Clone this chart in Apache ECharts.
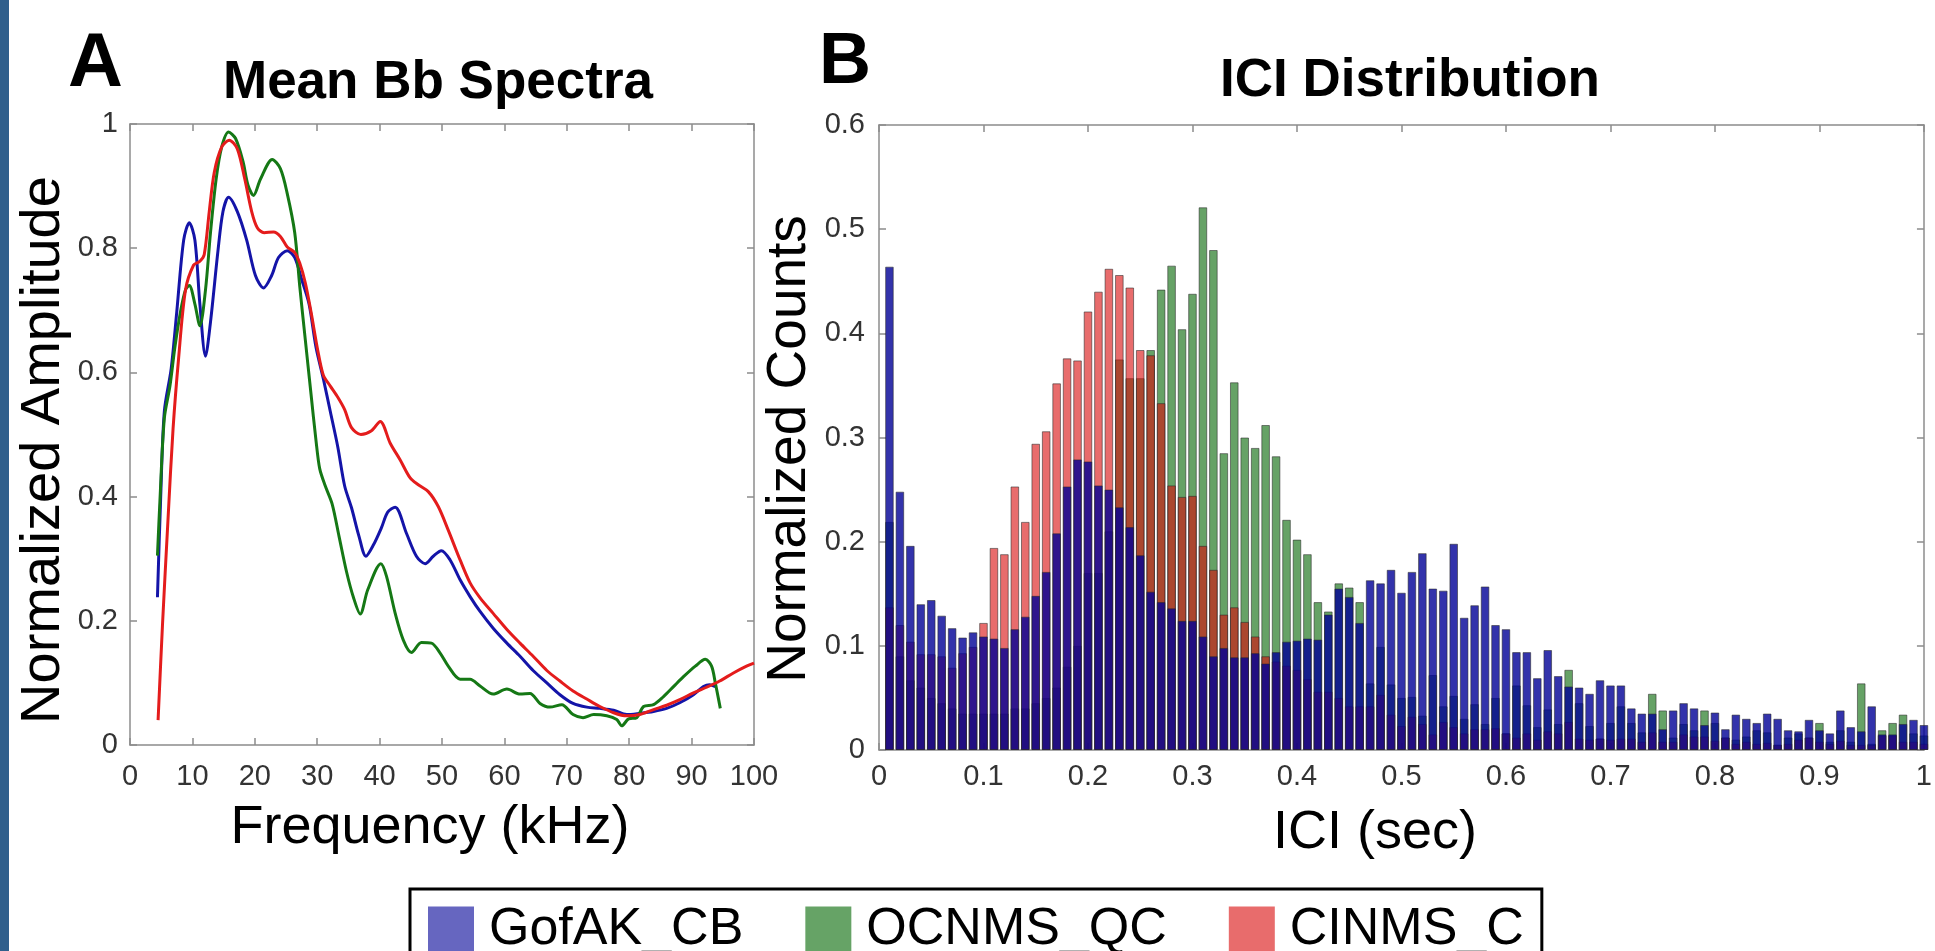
<!DOCTYPE html>
<html><head><meta charset="utf-8">
<script src="https://cdn.jsdelivr.net/npm/echarts@6/dist/echarts.min.js"></script>
<style>html,body{margin:0;padding:0;background:#fff;overflow:hidden}#c{width:1935px;height:951px}</style>
</head><body><div id="c"></div>
<script>
// ---------- Panel A: Mean Bb Spectra (frequency kHz / normalized amplitude) ----------
const gofakFreq = [4.4,4.9,5.5,6.6,7.5,8.6,9.5,10.4,11.2,12.1,12.9,14.1,14.9,15.8,17.2,18.7,20.1,21.4,22.7,23.8,25.2,26.4,27.5,28.7,29.8,31.0,32.1,33.3,34.4,35.5,36.7,37.8,39.0,40.3,41.3,42.5,44.3,45.9,47.3,48.6,49.9,51.3,52.9,54.5,56.1,58.2,60.4,62.5,64.6,66.8,68.9,71.0,73.2,75.3,77.5,79.6,81.7,83.9,86.0,88.1,90.3,91.9,92.9,93.8];
const gofakAmp  = [0.238,0.394,0.537,0.606,0.698,0.813,0.841,0.813,0.71,0.626,0.681,0.796,0.859,0.882,0.859,0.813,0.756,0.736,0.756,0.785,0.796,0.785,0.75,0.71,0.641,0.589,0.537,0.48,0.417,0.382,0.336,0.304,0.322,0.350,0.375,0.383,0.341,0.304,0.292,0.304,0.313,0.298,0.266,0.239,0.215,0.188,0.164,0.143,0.12,0.1,0.081,0.067,0.061,0.059,0.056,0.049,0.051,0.054,0.059,0.068,0.081,0.094,0.097,0.094];

const ocnmsFreq = [4.4,4.8,5.5,6.4,7.2,8.1,8.9,9.5,10.4,11.2,12.1,12.9,13.8,14.7,15.8,16.9,18.1,18.9,19.8,20.9,22.8,24.1,25.2,26.4,27.2,28.1,29.0,29.8,30.4,31.3,32.4,33.5,34.7,35.8,36.9,38.1,40.2,41.1,42.5,43.8,45.1,46.7,48.3,49.7,51.0,52.9,54.5,56.1,58.2,60.4,62.5,64.1,65.7,67.3,69.2,71.0,72.6,74.3,76.4,78.0,78.8,79.9,81.2,82.3,83.9,85.5,87.1,88.7,90.6,92.2,93.2,93.8,94.6];
const ocnmsAmp  = [0.305,0.394,0.526,0.578,0.641,0.698,0.733,0.74,0.71,0.675,0.733,0.825,0.911,0.963,0.987,0.977,0.94,0.902,0.885,0.911,0.943,0.928,0.888,0.825,0.739,0.652,0.566,0.491,0.445,0.417,0.388,0.336,0.279,0.238,0.211,0.25,0.292,0.272,0.212,0.169,0.149,0.165,0.164,0.148,0.127,0.106,0.106,0.095,0.082,0.090,0.082,0.083,0.067,0.061,0.065,0.049,0.044,0.049,0.047,0.041,0.031,0.042,0.044,0.062,0.065,0.078,0.094,0.11,0.127,0.138,0.127,0.1,0.059];

const cinmsFreq = [4.5,5.2,6.1,6.9,7.8,8.9,10.2,11.2,11.9,12.7,13.5,14.7,15.9,17.2,18.4,19.5,20.4,21.5,23.0,24.1,25.2,26.4,27.2,28.1,29.0,30.1,31.0,32.1,33.3,34.4,35.5,37.0,38.7,40.1,41.7,43.3,44.9,46.2,47.8,49.4,51.0,52.9,54.5,56.1,58.2,60.4,62.5,64.6,66.8,68.9,71.0,73.2,75.3,77.5,79.6,81.7,83.9,86.0,88.1,90.3,92.4,94.5,96.7,98.8,100];
const cinmsAmp  = [0.04,0.192,0.365,0.509,0.624,0.733,0.773,0.779,0.79,0.859,0.922,0.963,0.974,0.96,0.911,0.859,0.833,0.825,0.826,0.819,0.802,0.793,0.776,0.744,0.698,0.635,0.595,0.578,0.56,0.54,0.511,0.5,0.506,0.521,0.486,0.459,0.43,0.419,0.408,0.384,0.346,0.298,0.261,0.237,0.212,0.186,0.164,0.143,0.12,0.103,0.087,0.074,0.062,0.052,0.047,0.049,0.057,0.064,0.073,0.084,0.093,0.103,0.116,0.127,0.132];

// ---------- Panel B: ICI Distribution (bin centres in sec / normalized counts) ----------
const iciBins = [0.01,0.02,0.03,0.04,0.05,0.06,0.07,0.08,0.09,0.10,0.11,0.12,0.13,0.14,0.15,0.16,0.17,0.18,0.19,0.20,0.21,0.22,0.23,0.24,0.25,0.26,0.27,0.28,0.29,0.30,0.31,0.32,0.33,0.34,0.35,0.36,0.37,0.38,0.39,0.40,0.41,0.42,0.43,0.44,0.45,0.46,0.47,0.48,0.49,0.50,0.51,0.52,0.53,0.54,0.55,0.56,0.57,0.58,0.59,0.60,0.61,0.62,0.63,0.64,0.65,0.66,0.67,0.68,0.69,0.70,0.71,0.72,0.73,0.74,0.75,0.76,0.77,0.78,0.79,0.80,0.81,0.82,0.83,0.84,0.85,0.86,0.87,0.88,0.89,0.90,0.91,0.92,0.93,0.94,0.95,0.96,0.97,0.98,0.99,1.00];
const gofakCounts = [0.464,0.248,0.196,0.140,0.144,0.129,0.117,0.108,0.113,0.109,0.107,0.098,0.116,0.128,0.148,0.171,0.208,0.253,0.279,0.277,0.254,0.250,0.233,0.214,0.187,0.152,0.142,0.136,0.124,0.124,0.109,0.090,0.098,0.089,0.089,0.093,0.083,0.094,0.104,0.105,0.107,0.106,0.130,0.155,0.147,0.122,0.163,0.160,0.173,0.151,0.171,0.189,0.155,0.153,0.198,0.127,0.139,0.157,0.120,0.116,0.094,0.094,0.069,0.096,0.071,0.061,0.060,0.054,0.067,0.062,0.062,0.040,0.035,0.035,0.020,0.038,0.045,0.040,0.024,0.036,0.020,0.034,0.030,0.026,0.035,0.030,0.019,0.018,0.029,0.019,0.016,0.038,0.022,0.018,0.042,0.015,0.015,0.025,0.029,0.024];
const ocnmsCounts = [0.219,0.090,0.067,0.060,0.050,0.045,0.040,0.035,0.035,0.035,0.035,0.035,0.040,0.040,0.045,0.050,0.060,0.080,0.100,0.170,0.170,0.210,0.375,0.357,0.357,0.384,0.442,0.465,0.404,0.438,0.521,0.480,0.285,0.353,0.300,0.290,0.312,0.282,0.221,0.202,0.188,0.142,0.133,0.160,0.156,0.142,0.064,0.099,0.063,0.050,0.051,0.033,0.072,0.042,0.052,0.030,0.044,0.025,0.050,0.016,0.062,0.043,0.022,0.039,0.025,0.077,0.045,0.023,0.011,0.026,0.042,0.026,0.017,0.054,0.038,0.012,0.025,0.019,0.038,0.026,0.012,0.010,0.013,0.019,0.017,0.005,0.012,0.016,0.012,0.026,0.008,0.019,0.008,0.064,0.006,0.019,0.026,0.034,0.016,0.014];
const cinmsCounts = [0.137,0.120,0.104,0.092,0.092,0.090,0.079,0.093,0.099,0.122,0.194,0.188,0.253,0.219,0.294,0.306,0.352,0.376,0.374,0.421,0.440,0.462,0.456,0.444,0.384,0.379,0.333,0.254,0.243,0.244,0.196,0.173,0.130,0.137,0.123,0.109,0.090,0.085,0.081,0.077,0.068,0.056,0.056,0.050,0.042,0.042,0.042,0.053,0.034,0.023,0.032,0.025,0.015,0.027,0.022,0.016,0.020,0.020,0.021,0.016,0.012,0.016,0.010,0.018,0.016,0.027,0.011,0.010,0.011,0.010,0.011,0.011,0.008,0.017,0.008,0.008,0.015,0.013,0.013,0.009,0.012,0.006,0.008,0.006,0.007,0.005,0.006,0.010,0.012,0.008,0.006,0.009,0.005,0.005,0.005,0.014,0.014,0.008,0.008,0.006];

const seriesNames = ['GofAK_CB','OCNMS_QC','CINMS_C'];
const legendColors = ['#6666C0','#66A366','#E86C6C'];

// ---------- build ----------
const FONT = '"Liberation Sans", Arial, Helvetica, sans-serif';
const axisGray = '#8c8c8c';
const zip = (xs, ys) => xs.map((x, i) => [x, ys[i]]);

function axis(grid, pos, min, max, interval, showLabel, margin) {
  return {
    type: 'value', gridIndex: grid, position: pos, min, max, interval,
    axisLine: { show: true, onZero: false, lineStyle: { color: axisGray, width: 1.5 } },
    axisTick: { show: true, inside: true, length: 7, lineStyle: { color: axisGray, width: 1.5 } },
    axisLabel: { show: showLabel, margin: margin, fontSize: 29, color: '#333', fontFamily: FONT },
    splitLine: { show: false }
  };
}

const chart = echarts.init(document.getElementById('c'), null, { renderer: 'canvas' });

const barCommon = { type: 'bar', xAxisIndex: 2, yAxisIndex: 2, barWidth: 8.6, barGap: '-100%', silent: true };

const option = {
  backgroundColor: '#ffffff',
  animation: false,
  grid: [
    { left: 130, top: 124, width: 624, height: 621 },
    { left: 879, top: 125, width: 1051, height: 625 }
  ],
  xAxis: [
    axis(0, 'bottom', 0, 100, 10, true, 17),
    axis(0, 'top', 0, 100, 10, false, 8),
    axis(1, 'bottom', 0, 1, 0.1, true, 12),
    axis(1, 'top', 0, 1, 0.1, false, 8)
  ],
  yAxis: [
    axis(0, 'left', 0, 1, 0.2, true, 12),
    axis(0, 'right', 0, 1, 0.2, false, 8),
    axis(1, 'left', 0, 0.6, 0.1, true, 14),
    axis(1, 'right', 0, 0.6, 0.1, false, 8)
  ],
  legend: {
    left: 410, top: 889, orient: 'horizontal',
    icon: 'rect', itemWidth: 46, itemHeight: 47, itemGap: 62,
    borderColor: '#000', borderWidth: 3, padding: [15, 18, 15, 18],
    selectedMode: false,
    textStyle: { fontSize: 52, fontFamily: FONT, color: '#000', padding: [0, 0, 0, 10] },
    data: seriesNames.map((n, i) => ({ name: n, icon: 'rect', itemStyle: { color: legendColors[i], borderWidth: 0, opacity: 1 } }))
  },
  graphic: [
    { type: 'rect', left: 0, top: 0, shape: { x: 0, y: 0, width: 9, height: 951 }, style: { fill: '#2F5F8C' }, silent: true },
    { type: 'text', x: 68, y: 65, style: { text: 'A', font: 'bold 76px ' + FONT, fill: '#000', textAlign: 'left', textVerticalAlign: 'middle' } },
    { type: 'text', x: 438, y: 83, style: { text: 'Mean Bb Spectra', font: 'bold 53px ' + FONT, fill: '#000', textAlign: 'center', textVerticalAlign: 'middle' } },
    { type: 'text', x: 819, y: 63, style: { text: 'B', font: 'bold 72px ' + FONT, fill: '#000', textAlign: 'left', textVerticalAlign: 'middle' } },
    { type: 'text', x: 1410, y: 81, style: { text: 'ICI Distribution', font: 'bold 53px ' + FONT, fill: '#000', textAlign: 'center', textVerticalAlign: 'middle' } },
    { type: 'text', x: 430, y: 828, style: { text: 'Frequency (kHz)', font: '54px ' + FONT, fill: '#000', textAlign: 'center', textVerticalAlign: 'middle' } },
    { type: 'text', x: 1375, y: 833, style: { text: 'ICI (sec)', font: '54px ' + FONT, fill: '#000', textAlign: 'center', textVerticalAlign: 'middle' } },
    { type: 'text', x: 44, y: 450, rotation: Math.PI / 2, style: { text: 'Normalized Amplitude', font: '56px ' + FONT, fill: '#000', textAlign: 'center', textVerticalAlign: 'middle' } },
    { type: 'text', x: 790, y: 449, rotation: Math.PI / 2, style: { text: 'Normalized Counts', font: '55px ' + FONT, fill: '#000', textAlign: 'center', textVerticalAlign: 'middle' } }
  ],
  series: [
    Object.assign({}, barCommon, { name: 'GofAK_CB', z: 4, data: zip(iciBins, gofakCounts),
      itemStyle: { color: 'rgba(0,0,150,0.8)', borderColor: 'rgba(40,40,40,0.55)', borderWidth: 1 } }),
    Object.assign({}, barCommon, { name: 'OCNMS_QC', z: 2, data: zip(iciBins, ocnmsCounts),
      itemStyle: { color: 'rgba(0,100,0,0.6)', borderColor: 'rgba(40,40,40,0.55)', borderWidth: 1 } }),
    Object.assign({}, barCommon, { name: 'CINMS_C', z: 3, data: zip(iciBins, cinmsCounts),
      itemStyle: { color: 'rgba(216,10,10,0.6)', borderColor: 'rgba(40,40,40,0.55)', borderWidth: 1 } }),
    { type: 'line', name: 'GofAK_CB', xAxisIndex: 0, yAxisIndex: 0, data: zip(gofakFreq, gofakAmp), showSymbol: false, symbol: 'none', smooth: 0.3, lineStyle: { color: '#1414A8', width: 3 }, itemStyle: { color: '#1414A8' }, z: 3, silent: true },
    { type: 'line', name: 'OCNMS_QC', xAxisIndex: 0, yAxisIndex: 0, data: zip(ocnmsFreq, ocnmsAmp), showSymbol: false, symbol: 'none', smooth: 0.3, lineStyle: { color: '#157815', width: 3 }, itemStyle: { color: '#157815' }, z: 4, silent: true },
    { type: 'line', name: 'CINMS_C', xAxisIndex: 0, yAxisIndex: 0, data: zip(cinmsFreq, cinmsAmp), showSymbol: false, symbol: 'none', smooth: 0.3, lineStyle: { color: '#E41C1C', width: 3 }, itemStyle: { color: '#E41C1C' }, z: 5, silent: true }
  ]
};
chart.setOption(option);
</script></body></html>
